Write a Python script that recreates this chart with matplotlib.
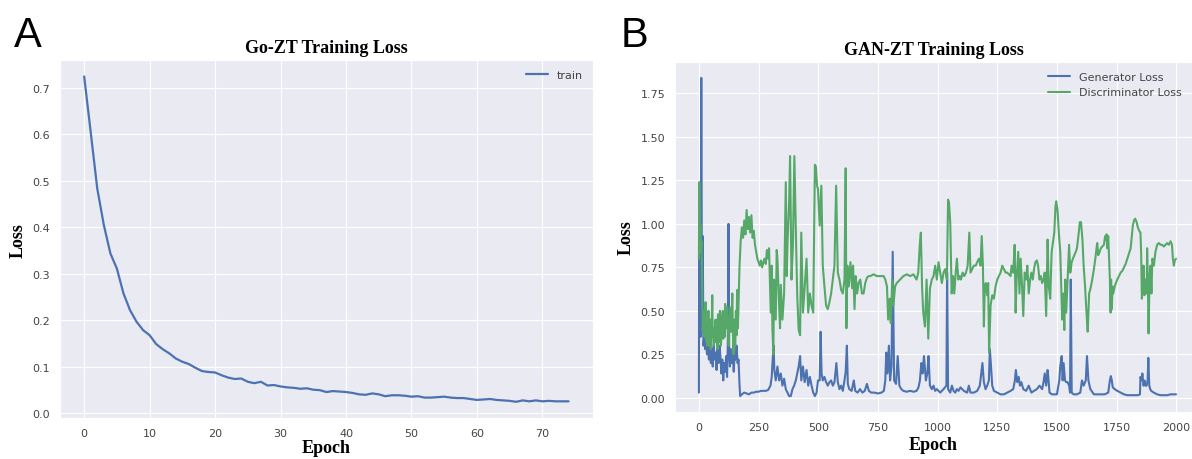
import numpy as np
import matplotlib
matplotlib.use("Agg")
from matplotlib import pyplot as plt
from matplotlib.ticker import MultipleLocator
import seaborn as sns

## Go-ZT training loss, one value per epoch
train_loss = [0.724, 0.604, 0.483, 0.405, 0.344, 0.311, 0.258, 0.222, 0.197, 0.179,
              0.168, 0.149, 0.138, 0.129, 0.118, 0.111, 0.106, 0.098, 0.091, 0.089,
              0.088, 0.082, 0.077, 0.074, 0.075, 0.068, 0.065, 0.068, 0.060, 0.061,
              0.058, 0.056, 0.055, 0.053, 0.054, 0.051, 0.050, 0.046, 0.048, 0.047,
              0.046, 0.044, 0.041, 0.040, 0.043, 0.041, 0.037, 0.039, 0.039, 0.038,
              0.036, 0.037, 0.034, 0.034, 0.035, 0.036, 0.034, 0.033, 0.033, 0.031,
              0.029, 0.030, 0.031, 0.029, 0.028, 0.027, 0.025, 0.028, 0.026, 0.028,
              0.026, 0.027, 0.026, 0.026, 0.026]

## GAN-ZT losses, (epoch, loss)
gen_pts = [(0,0.03),(1,0.82),(4,0.45),(7,0.35),(10,1.84),(13,0.38),(16,0.93),(19,0.30),(23,0.36),(26,0.28),
           (30,0.33),(34,0.25),(38,0.30),(42,0.22),(46,0.32),(50,0.20),(54,0.28),(58,0.18),(62,0.30),(66,0.22),
           (70,0.26),(74,0.16),(78,0.28),(82,0.20),(86,0.30),(90,0.24),(94,0.14),(98,0.22),(102,0.10),(106,0.20),
           (110,0.15),(114,0.24),(118,0.12),(121,0.30),(124,1.00),(127,0.25),(130,0.18),(134,0.28),(138,0.20),(142,0.25),
           (146,0.15),(150,0.26),(154,0.22),(158,0.30),(162,0.20),(166,0.22),(170,0.08),(173,0.01),(180,0.02),(190,0.03),
           (200,0.025),(210,0.02),(220,0.03),(230,0.03),(240,0.035),(250,0.035),(260,0.04),(270,0.04),(280,0.04),(290,0.045),
           (300,0.07),(305,0.12),(310,0.24),(313,0.30),(316,0.16),(322,0.10),(329,0.18),(336,0.10),(343,0.14),(350,0.07),
           (357,0.11),(364,0.05),(371,0.03),(378,0.01),(385,0.01),(392,0.05),(399,0.07),(406,0.10),(412,0.14),(418,0.18),
           (424,0.24),(429,0.10),(436,0.18),(443,0.09),(451,0.16),(458,0.07),(465,0.12),(472,0.07),(479,0.03),(486,0.01),
           (493,0.03),(499,0.10),(506,0.10),(510,0.38),(514,0.14),(519,0.10),(526,0.12),(533,0.09),(540,0.07),(547,0.09),
           (554,0.10),(561,0.07),(568,0.09),(576,0.20),(582,0.09),(589,0.05),(596,0.07),(603,0.04),(610,0.10),(615,0.15),
           (620,0.30),(624,0.08),(630,0.05),(640,0.04),(649,0.10),(655,0.04),(665,0.03),(675,0.05),(685,0.03),(695,0.04),
           (704,0.08),(712,0.04),(722,0.03),(735,0.03),(750,0.025),(765,0.03),(775,0.04),(781,0.10),(785,0.26),(790,0.14),
           (796,0.30),(801,0.10),(807,0.18),(812,0.84),(818,0.10),(826,0.08),(833,0.24),(840,0.07),(848,0.05),(857,0.04),
           (870,0.035),(885,0.04),(900,0.035),(912,0.04),(920,0.06),(926,0.10),(932,0.20),(937,0.14),(943,0.24),(951,0.10),
           (957,0.14),(962,0.24),(968,0.07),(976,0.05),(983,0.07),(990,0.04),(997,0.05),(1011,0.03),(1025,0.05),(1037,0.07),
           (1040,0.72),(1044,0.05),(1053,0.03),(1060,0.07),(1067,0.04),(1074,0.03),(1081,0.05),(1088,0.04),(1096,0.06),(1110,0.04),
           (1124,0.03),(1131,0.07),(1138,0.03),(1152,0.03),(1166,0.04),(1177,0.07),(1183,0.14),(1188,0.20),(1194,0.09),(1201,0.05),
           (1208,0.07),(1215,0.10),(1219,0.28),(1223,0.20),(1229,0.07),(1236,0.04),(1250,0.03),(1264,0.02),(1278,0.02),(1292,0.03),
           (1306,0.04),(1317,0.05),(1324,0.10),(1328,0.16),(1334,0.09),(1340,0.12),(1345,0.07),(1351,0.09),(1359,0.05),(1371,0.04),
           (1382,0.07),(1393,0.03),(1404,0.04),(1416,0.05),(1427,0.07),(1438,0.05),(1444,0.09),(1449,0.14),(1455,0.07),(1461,0.16),
           (1465,0.10),(1469,0.03),(1479,0.02),(1490,0.02),(1500,0.02),(1510,0.10),(1514,0.18),(1520,0.24),(1524,0.10),(1528,0.20),
           (1534,0.10),(1539,0.09),(1545,0.09),(1551,0.07),(1555,0.03),(1558,0.68),(1562,0.03),(1570,0.02),(1584,0.02),(1598,0.03),
           (1605,0.10),(1612,0.07),(1621,0.10),(1626,0.24),(1632,0.10),(1640,0.05),(1655,0.02),(1670,0.02),(1685,0.02),(1700,0.02),
           (1715,0.03),(1722,0.10),(1726,0.125),(1730,0.10),(1734,0.06),(1742,0.05),(1753,0.04),(1767,0.03),(1781,0.02),(1795,0.015),
           (1810,0.015),(1825,0.015),(1840,0.015),(1848,0.02),(1850,0.12),(1855,0.10),(1858,0.14),(1863,0.07),(1867,0.10),(1871,0.07),
           (1876,0.07),(1880,0.10),(1883,0.23),(1887,0.07),(1891,0.05),(1895,0.04),(1906,0.03),(1920,0.02),(1934,0.015),(1948,0.015),
           (1962,0.015),(1976,0.02),(1990,0.02),(1999,0.02)]

disc_pts = [(0,0.80),(2,1.24),(4,0.84),(6,1.00),(8,0.84),(11,0.90),(14,0.60),(16,0.38),(18,0.45),(21,0.50),(24,0.35),
            (26,0.47),(28,0.55),(30,0.33),(32,0.40),(34,0.30),(36,0.37),(38,0.45),(40,0.50),(42,0.36),(44,0.30),(46,0.40),
            (48,0.45),(50,0.28),(52,0.35),(54,0.44),(56,0.59),(58,0.35),(60,0.40),(62,0.30),(65,0.33),(68,0.42),
            (70,0.45),(72,0.32),(75,0.38),(78,0.28),(80,0.48),(82,0.36),(85,0.32),(88,0.50),(90,0.44),(92,0.30),(95,0.36),
            (98,0.46),(100,0.50),(102,0.34),(105,0.42),(108,0.35),(110,0.54),(112,0.44),(115,0.40),(118,0.52),
            (120,0.45),(122,0.36),(125,0.30),(128,0.44),(130,0.52),(132,0.40),(135,0.38),(138,0.50),(140,0.60),(142,0.42),
            (145,0.25),(148,0.38),(150,0.45),(152,0.30),(155,0.50),(158,0.36),(160,0.62),(163,0.40),(165,0.48),
            (170,0.75),(175,0.90),(180,0.98),(185,0.92),(190,1.02),(195,0.94),(200,1.08),(205,0.97),(210,1.04),(215,0.95),
            (220,1.05),(225,0.92),(230,0.96),(235,0.88),(240,0.84),(245,0.80),(250,0.78),(255,0.76),(260,0.79),(265,0.75),
            (270,0.78),(275,0.80),(280,0.77),(285,0.85),(290,0.80),(294,0.86),(301,0.49),(305,0.76),(308,0.40),(312,0.25),
            (315,0.68),(322,0.45),(326,0.85),(329,0.80),(336,0.53),(340,0.40),(343,0.65),(350,0.45),(357,0.60),(364,1.24),
            (368,0.70),(371,0.88),(378,1.13),(382,1.39),(388,0.68),(394,0.88),(400,1.39),(406,0.97),(412,0.59),(418,0.39),
            (424,0.36),(429,0.95),(436,0.49),(443,0.63),(451,0.80),(458,0.49),(465,0.60),(472,0.53),(479,0.49),(486,1.34),
            (490,1.33),(495,1.22),(499,1.20),(506,0.99),(513,1.22),(519,0.76),(526,0.64),(533,0.53),(540,0.51),(547,0.55),
            (554,0.60),(561,0.68),(568,0.76),(575,1.22),(582,0.72),(589,0.68),(596,0.62),(603,0.60),(610,0.68),(615,1.32),
            (618,0.40),(622,0.76),(628,0.64),(635,0.78),(642,0.63),(646,0.76),(652,0.51),(657,0.70),(663,0.60),(669,0.66),
            (676,0.68),(683,0.60),(690,0.60),(697,0.66),(704,0.69),(711,0.70),(718,0.70),(732,0.71),(746,0.70),(760,0.70),
            (774,0.70),(781,0.68),(788,0.64),(793,0.45),(799,0.57),(804,0.43),(810,0.68),(815,0.53),(822,0.64),(829,0.66),
            (843,0.68),(857,0.70),(871,0.71),(885,0.70),(899,0.71),(912,0.68),(919,0.72),(926,0.89),(930,0.95),(935,0.64),
            (940,0.49),(947,0.41),(954,0.68),(961,0.34),(968,0.63),(976,0.68),(983,0.70),(990,0.76),(997,0.68),(1004,0.78),
            (1011,0.72),(1018,0.66),(1025,0.72),(1032,0.74),(1039,0.68),(1044,1.14),(1048,1.12),(1053,1.01),(1059,0.60),(1065,0.70),
            (1070,0.60),(1076,0.72),(1081,0.80),(1087,0.68),(1093,0.70),(1098,0.68),(1105,0.72),(1112,0.70),(1119,0.72),(1126,0.76),
            (1133,0.95),(1138,0.72),(1145,0.74),(1152,0.76),(1160,0.76),(1166,0.78),(1173,0.80),(1180,0.76),(1185,0.93),(1190,0.76),
            (1194,0.41),(1198,0.64),(1202,0.66),(1208,0.59),(1212,0.66),(1216,0.26),(1222,0.53),(1229,0.59),(1236,0.57),(1243,0.64),
            (1250,0.68),(1264,0.72),(1271,0.76),(1278,0.74),(1285,0.72),(1292,0.72),(1306,0.70),(1310,0.76),(1317,0.72),(1323,0.88),
            (1327,0.49),(1331,0.68),(1338,0.84),(1343,0.60),(1348,0.80),(1354,0.64),(1359,0.47),(1365,0.72),(1371,0.68),(1376,0.76),
            (1382,0.60),(1388,0.68),(1393,0.72),(1399,0.68),(1404,0.74),(1410,0.78),(1416,0.79),(1421,0.76),(1427,0.68),(1433,0.70),
            (1438,0.66),(1444,0.68),(1449,0.72),(1455,0.47),(1461,0.91),(1466,0.64),(1472,0.57),(1478,0.84),(1483,0.89),(1489,0.95),
            (1494,1.10),(1497,1.13),(1503,1.07),(1508,0.95),(1514,0.84),(1518,0.64),(1522,0.45),(1527,0.60),(1531,0.39),(1535,0.68),
            (1539,0.49),(1545,0.68),(1551,0.88),(1556,0.72),(1562,0.78),(1567,0.80),(1573,0.82),(1579,0.84),(1584,0.86),(1590,0.93),
            (1596,1.01),(1601,1.01),(1607,0.91),(1612,0.76),(1618,0.64),(1624,0.49),(1629,0.38),(1635,0.60),(1641,0.63),(1648,0.68),
            (1655,0.74),(1661,0.80),(1666,0.86),(1669,0.89),(1673,0.82),(1679,0.84),(1684,0.86),(1690,0.87),(1697,0.88),(1702,0.93),
            (1705,0.91),(1708,0.94),(1711,0.86),(1715,0.93),(1718,0.82),(1722,0.68),(1725,0.49),(1727,0.68),(1730,0.51),(1733,0.64),
            (1736,0.60),(1742,0.64),(1747,0.66),(1753,0.68),(1760,0.70),(1767,0.72),(1774,0.73),(1781,0.75),(1788,0.77),(1795,0.80),
            (1802,0.83),(1809,0.86),(1814,0.93),(1818,0.99),(1823,1.02),(1828,1.03),(1834,1.01),(1839,0.98),(1845,0.96),(1850,0.95),
            (1853,0.83),(1856,0.57),(1860,0.64),(1863,0.76),(1867,0.59),(1871,0.68),(1876,0.60),(1878,0.86),(1881,0.68),(1884,0.37),
            (1888,0.68),(1892,0.76),(1896,0.60),(1900,0.80),(1906,0.76),(1913,0.84),(1920,0.88),(1927,0.89),(1934,0.88),(1941,0.88),
            (1948,0.87),(1955,0.88),(1962,0.89),(1969,0.88),(1976,0.90),(1982,0.88),(1986,0.80),(1990,0.76),(1994,0.79),(1999,0.80)]

gen_epochs, gen_loss = zip(*gen_pts)
disc_epochs, disc_loss = zip(*disc_pts)

sns.set_style("darkgrid")
plt.rcParams['font.family'] = ['DejaVu Sans']
plt.rcParams['xtick.labelsize'] = 8
plt.rcParams['ytick.labelsize'] = 8
plt.rcParams['xtick.color'] = '#444444'
plt.rcParams['ytick.color'] = '#444444'
plt.rcParams['legend.labelcolor'] = '#444444'

blue = '#4C72B0'
green = '#55A868'
lab_font = dict(family='Liberation Serif', weight='bold', size=13, color='black')

fig = plt.figure(figsize=(11.92, 4.6), dpi=100)

## panel A
ax1 = fig.add_axes([0.0503, 0.089, 0.447, 0.778])
ax1.plot(np.arange(len(train_loss)), train_loss, color=blue, lw=1.6, label='train')
ax1.xaxis.set_major_locator(MultipleLocator(10))
ax1.yaxis.set_major_locator(MultipleLocator(0.1))
ax1.set_title('Go-ZT Training Loss', fontdict=lab_font)
ax1.set_xlabel('Epoch', fontdict=lab_font, labelpad=1)
ax1.set_ylabel('Loss', fontdict=lab_font)
ax1.legend(loc='upper right', frameon=False, fontsize=8)

## panel B
ax2 = fig.add_axes([0.5663, 0.1022, 0.4337, 0.761])
ax2.plot(gen_epochs, gen_loss, color=blue, lw=1.5, label='Generator Loss')
ax2.plot(disc_epochs, disc_loss, color=green, lw=1.5, label='Discriminator Loss')
ax2.set_xlim(-100, 2066)
ax2.xaxis.set_major_locator(MultipleLocator(250))
ax2.yaxis.set_major_locator(MultipleLocator(0.25))
ax2.set_title('GAN-ZT Training Loss', fontdict=lab_font)
ax2.set_xlabel('Epoch', fontdict=lab_font, labelpad=3)
ax2.set_ylabel('Loss', fontdict=lab_font)
ax2.legend(loc='upper right', frameon=False, fontsize=8)

fig.text(0.012, 0.965, 'A', fontsize=30, va='top', family='Liberation Sans', color='black')
fig.text(0.521, 0.965, 'B', fontsize=30, va='top', family='Liberation Sans', color='black')

fig.savefig('out.png', dpi=100)
